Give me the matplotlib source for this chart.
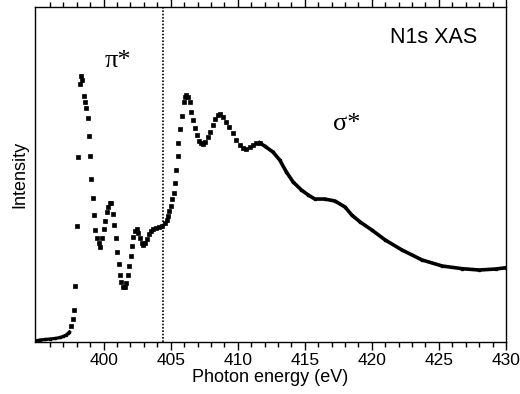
import matplotlib.pyplot as plt
from matplotlib.ticker import FixedLocator

plt.rcParams['font.family'] = ['Liberation Sans', 'DejaVu Sans']

# pre-edge baseline (dense scan)
edge_energy = [394.88, 395.25, 395.63, 396.00, 396.38, 396.75, 396.98, 397.20, 397.35, 397.45]
edge_int = [1, 2, 2.5, 3, 3.5, 4.5, 5.5, 7, 8.5, 10]

# pi* region, sparse points
dots_energy = [397.56, 397.69, 397.80, 397.90, 398.00, 398.10, 398.20, 398.31, 398.40, 398.50,
               398.61, 398.68, 398.80, 398.91, 399.00, 399.08, 399.18, 399.28, 399.38, 399.51,
               399.63, 399.75, 399.88, 400.00, 400.13, 400.24, 400.35, 400.47, 400.54, 400.69,
               400.80, 400.90, 401.01, 401.13, 401.20, 401.31, 401.46, 401.58, 401.70, 401.82,
               401.91, 402.02, 402.12, 402.21, 402.32, 402.45, 402.57, 402.70, 402.83, 402.96,
               403.07, 403.23, 403.39, 403.54, 403.69, 403.88, 404.13, 404.38, 404.57, 404.70,
               404.80, 404.91, 405.00, 405.08, 405.21, 405.30, 405.38, 405.51, 405.58, 405.70,
               405.81, 405.96, 406.05, 406.17, 406.28, 406.41, 406.54, 406.68, 406.80, 406.95,
               407.13, 407.29, 407.40, 407.55, 407.76, 407.95, 408.13, 408.30, 408.51, 408.70,
               408.88, 409.13, 409.38, 409.63, 409.88, 410.13, 410.38, 410.63, 410.88, 411.13,
               411.38, 411.63]
dots_int = [16, 22.7, 32, 56.3, 116, 185.3, 258, 266.3, 262, 246.3,
            239.7, 234.3, 223.7, 206.3, 185.7, 162.7, 143.7, 127, 112, 103.7,
            98.7, 95.3, 104, 112.7, 121, 130, 135.3, 138.7, 139, 128,
            117, 103.7, 90, 77.7, 67, 60.3, 54.7, 54.7, 59.3, 67,
            76.5, 86, 96.3, 105.3, 111, 112.7, 108.7, 103.7, 98.7, 97,
            98.7, 102.7, 108, 111, 112.7, 113.7, 114.7, 116.5, 119, 122,
            126, 131, 136, 142.7, 148.7, 158.7, 172, 186, 199.3, 212.7,
            226, 240.3, 245.3, 247, 245.3, 240.3, 230.3, 222, 213.7, 207,
            201.3, 198.7, 198.5, 200.3, 205.3, 210.3, 217, 222.7, 227, 228,
            225.3, 220.3, 215.3, 208.7, 202, 197, 193.7, 193, 195.3, 197,
            198.7, 199.3]

# sigma* tail (dense scan)
tail_energy = [411.63, 412.00, 412.63, 413.13, 413.63, 414.13, 414.75, 415.26, 415.75, 416.50,
               417.25, 418.00, 418.50, 419.13, 420.00, 421.00, 422.25, 423.75, 425.25, 426.75,
               428.00, 429.25, 430.00]
tail_int = [199.3, 196, 190, 182, 170, 160, 152, 147, 143, 143,
            141, 135, 127, 120, 112, 102, 92, 82, 76, 73.3,
            72, 73, 74.3]

fig = plt.figure(figsize=(5.2, 3.94), dpi=100)
ax = fig.add_axes([0.0673, 0.132, 0.9057, 0.85])

ax.plot(edge_energy, edge_int, color='black', lw=2.3, marker='s', ms=2, ls='-')
ax.plot(dots_energy, dots_int, color='black', marker='s', ms=2.2, mew=0.5, ls='none')
ax.plot(tail_energy, tail_int, color='black', lw=2.6, marker='s', ms=2, ls='-')

ax.axvline(404.43, color='black', lw=1.2, ls=(0, (1, 1)))

ax.set_xlim(394.88, 430.0)
ax.set_ylim(0, 335)

ax.xaxis.set_major_locator(FixedLocator([400, 405, 410, 415, 420, 425, 430]))
ax.xaxis.set_minor_locator(FixedLocator([e for e in range(396, 430) if e % 5 != 0]))
ax.tick_params(axis='x', which='both', direction='out', top=True, bottom=True,
               labelsize=12.5, width=1, pad=2)
ax.tick_params(axis='x', which='major', length=6)
ax.tick_params(axis='x', which='minor', length=3.5)
ax.set_yticks([])

for s in ax.spines.values():
    s.set_linewidth(1.0)

ax.set_xlabel('Photon energy (eV)', fontsize=13, labelpad=1)
ax.set_ylabel('Intensity', fontsize=13, labelpad=5)

ax.text(0.94, 0.91, 'N1s XAS', transform=ax.transAxes, fontsize=15.5, ha='right', va='center')
ax.text(400.1, 275, 'π*', fontsize=19, family=['Liberation Serif', 'DejaVu Serif'], ha='left')
ax.text(417.1, 212, 'σ*', fontsize=19, family=['Liberation Serif', 'DejaVu Serif'], ha='left')

fig.savefig('out.png', dpi=100)
